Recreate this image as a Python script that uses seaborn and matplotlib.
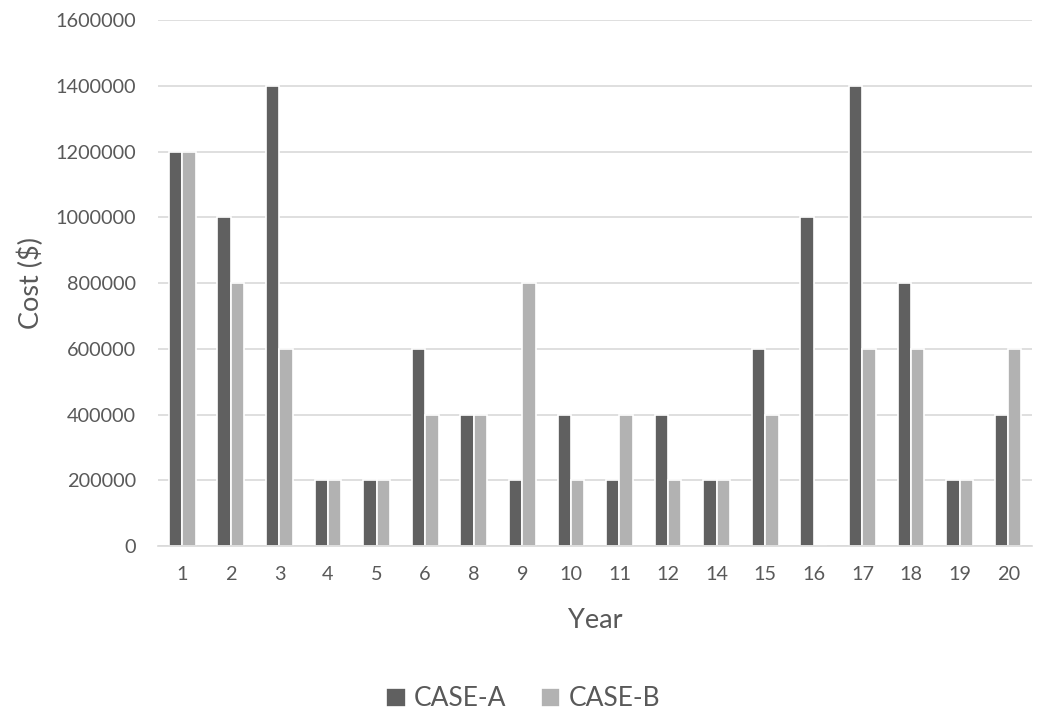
import matplotlib
matplotlib.use("Agg")
import matplotlib.pyplot as plt
import seaborn as sns
import pandas as pd

years = ["1", "2", "3", "4", "5", "6", "8", "9", "10", "11", "12", "14", "15", "16", "17", "18", "19", "20"]
case_a = [1200000, 1000000, 1400000, 200000, 200000, 600000, 400000, 200000, 400000,
          200000, 400000, 200000, 600000, 1000000, 1400000, 800000, 200000, 400000]
case_b = [1200000, 800000, 600000, 200000, 200000, 400000, 400000, 800000, 200000,
          400000, 200000, 200000, 400000, 0, 600000, 600000, 200000, 600000]
series_names = ["CASE-A", "CASE-B"]
y_ticks = [0, 200000, 400000, 600000, 800000, 1000000, 1200000, 1400000, 1600000]

df = pd.DataFrame({
    "Year": years * 2,
    "Cost": case_a + case_b,
    "Series": [series_names[0]] * len(years) + [series_names[1]] * len(years),
})

sns.set_theme(style="white")
plt.rcParams["font.family"] = ["Lato", "DejaVu Sans"]

fig = plt.figure(figsize=(10.46, 7.13), dpi=100)
ax = fig.add_axes([0.151, 0.234, 0.836, 0.738])

palette = {"CASE-A": "#606060", "CASE-B": "#b2b2b2"}
sns.barplot(data=df, x="Year", y="Cost", hue="Series", order=years,
            hue_order=series_names, palette=palette, width=0.55,
            edgecolor="white", linewidth=1.2, saturation=1, ax=ax, legend=True)

ax.set_ylim(0, 1600000)
ax.set_yticks(y_ticks)
ax.set_yticklabels([str(v) for v in y_ticks])
ax.yaxis.grid(True, color="#d9d9d9", linewidth=1.2)
ax.set_axisbelow(True)
for s in ["top", "right", "left"]:
    ax.spines[s].set_visible(False)
ax.spines["bottom"].set_color("#d9d9d9")
ax.spines["bottom"].set_linewidth(1.2)
ax.tick_params(axis="both", length=0, labelsize=14.3, colors="#595959")
ax.tick_params(axis="y", pad=16)
ax.tick_params(axis="x", pad=14)
ax.set_xlabel("Year", fontsize=19.5, color="#595959", labelpad=18)
ax.set_ylabel("Cost ($)", fontsize=19.5, color="#595959", labelpad=8)

handles, labels = ax.get_legend_handles_labels()
ax.get_legend().remove()
fig.legend(handles, labels, loc="center", bbox_to_anchor=(0.5, 1 - 699 / 713), ncol=2,
           frameon=False, fontsize=19, labelcolor="#595959", handlelength=0.75,
           handleheight=0.75, handletextpad=0.3, columnspacing=1.3)

fig.savefig("out.png", dpi=100)
